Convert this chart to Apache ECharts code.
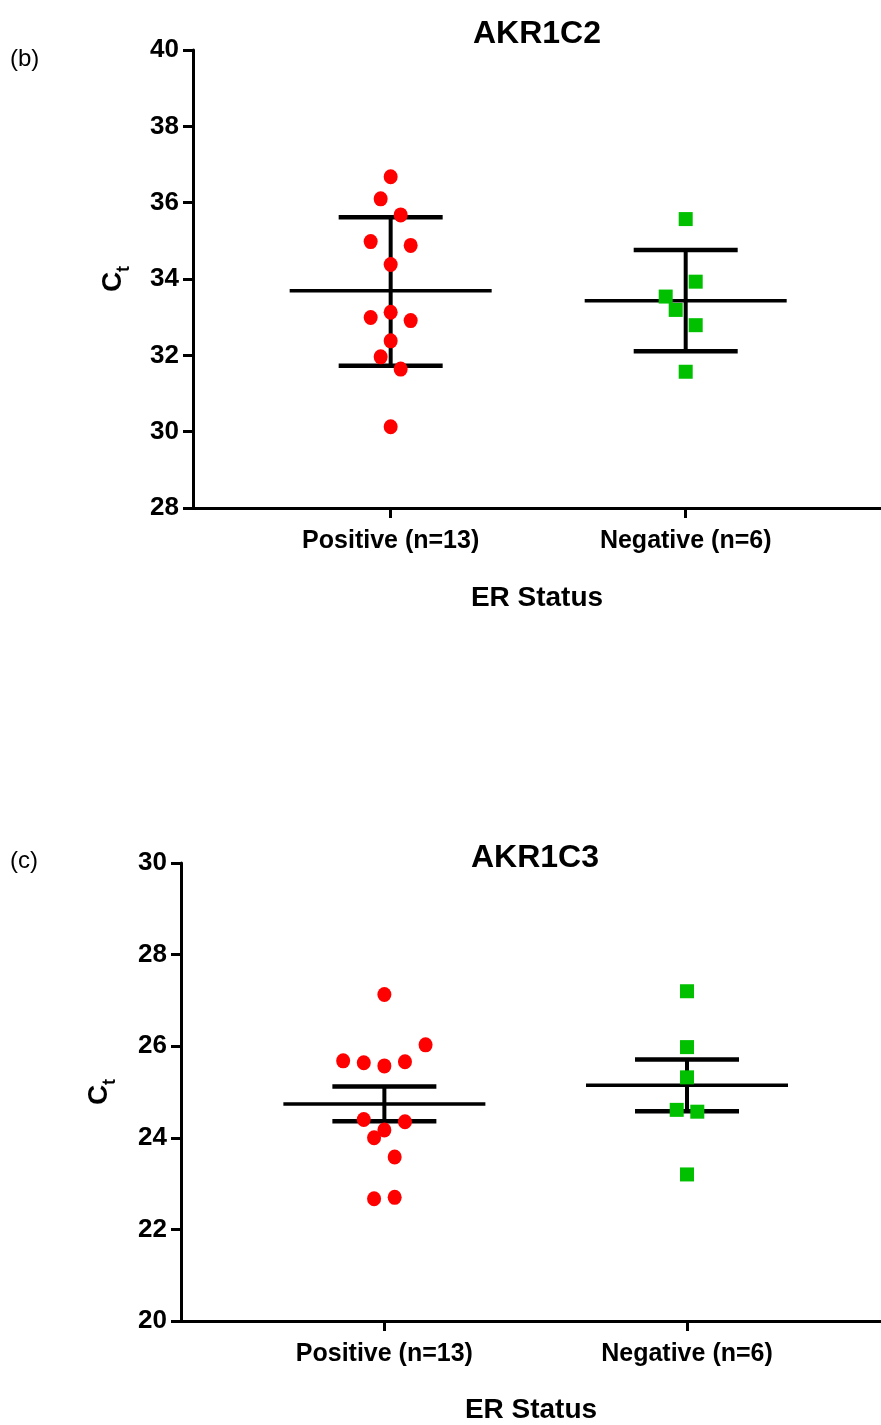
<!DOCTYPE html>
<html>
<head>
<meta charset="utf-8">
<script src="https://cdn.jsdelivr.net/npm/echarts@6/dist/echarts.min.js"></script>
<style>
html,body{margin:0;padding:0;background:#fff;}
#chart{width:881px;height:1425px;}
</style>
</head>
<body>
<div id="chart"></div>
<script>
// ---- data ----
const categories = ['Positive (n=13)', 'Negative (n=6)'];
const panelLabels = ['(b)', '(c)'];
const titles = ['AKR1C2', 'AKR1C3'];
const xAxisTitle = 'ER Status';

// AKR1C2
const c2Positive = [36.68, 36.10, 35.68, 34.98, 34.88, 34.38, 33.13, 32.99, 32.91, 32.38, 31.96, 31.64, 30.13];
const c2PositiveSlot = [0, -1, 1, -2, 2, 0, 0, -2, 2, 0, -1, 1, 0];
const c2Negative = [35.57, 33.93, 33.54, 33.19, 32.79, 31.57];
const c2NegativeSlot = [0, 1, -2, -1, 1, 0];
const c2Mean = [33.69, 33.43];
const c2Low = [31.73, 32.11];
const c2High = [35.62, 34.76];
const c2YTicks = [28, 30, 32, 34, 36, 38, 40];

// AKR1C3
const c3Positive = [27.13, 26.03, 25.68, 25.64, 25.57, 25.66, 24.40, 24.35, 24.17, 24.00, 23.58, 22.67, 22.70];
const c3PositiveSlot = [0, 4, -4, -2, 0, 2, -2, 2, 0, -1, 1, -1, 1];
const c3Negative = [27.20, 25.98, 25.32, 24.61, 24.57, 23.20];
const c3NegativeSlot = [0, 0, 0, -1, 1, 0];
const c3Mean = [24.74, 25.15];
const c3Low = [24.36, 24.58];
const c3High = [25.12, 25.71];
const c3YTicks = [20, 22, 24, 26, 28, 30];

// ---- style ----
const FONT = "'Liberation Sans', Arial, sans-serif";
const RED = '#ff0000';
const GREEN = '#00c000';

function pts(cat, vals, slots, step) {
  return vals.map((v, i) => ({ value: [cat, v], symbolOffset: [slots[i] * step, 0] }));
}
function bars(mean, lo, hi) {
  return mean.map((m, i) => [i + 1, m, lo[i], hi[i]]);
}
function renderBar(params, api) {
  const x = api.value(0);
  const pm = api.coord([x, api.value(1)]);
  const pl = api.coord([x, api.value(2)]);
  const ph = api.coord([x, api.value(3)]);
  const halfMean = 101, halfCap = 52;
  const st = (w) => ({ stroke: '#000', lineWidth: w, lineCap: 'butt' });
  return {
    type: 'group',
    children: [
      { type: 'line', shape: { x1: pl[0], y1: pl[1], x2: ph[0], y2: ph[1] }, style: st(4) },
      { type: 'line', shape: { x1: pm[0] - halfMean, y1: pm[1], x2: pm[0] + halfMean, y2: pm[1] }, style: st(3.5) },
      { type: 'line', shape: { x1: pl[0] - halfCap, y1: pl[1], x2: pl[0] + halfCap, y2: pl[1] }, style: st(4.5) },
      { type: 'line', shape: { x1: ph[0] - halfCap, y1: ph[1], x2: ph[0] + halfCap, y2: ph[1] }, style: st(4.5) }
    ]
  };
}
function xAx(gi, min, max, gap) {
  return {
    gridIndex: gi, type: 'value', min: min, max: max,
    name: xAxisTitle, nameLocation: 'middle', nameGap: gap,
    nameTextStyle: { fontFamily: FONT, fontWeight: 'bold', fontSize: 28, color: '#000' },
    axisLine: { show: true, onZero: false, lineStyle: { color: '#000', width: 3 } },
    axisTick: { show: true, customValues: [1, 2], length: 10, lineStyle: { color: '#000', width: 3 } },
    axisLabel: { show: true, customValues: [1, 2], margin: 21, formatter: (v) => categories[Math.round(v) - 1] || '',
      fontFamily: FONT, fontWeight: 'bold', fontSize: 25, color: '#000' },
    splitLine: { show: false }
  };
}
function yAx(gi, ticks, gap) {
  return {
    gridIndex: gi, type: 'value', min: ticks[0], max: ticks[ticks.length - 1], interval: 2,
    name: '{c|C}{t|t}', nameLocation: 'middle', nameRotate: 90, nameGap: gap,
    nameTextStyle: {
      rich: {
        c: { fontFamily: FONT, fontWeight: 'bold', fontSize: 28, color: '#000', lineHeight: 34, verticalAlign: 'top' },
        t: { fontFamily: FONT, fontWeight: 'bold', fontSize: 18, color: '#000', lineHeight: 34, verticalAlign: 'bottom' }
      }
    },
    axisLine: { show: true, onZero: false, lineStyle: { color: '#000', width: 3 } },
    axisTick: { show: true, length: 10, lineStyle: { color: '#000', width: 3 } },
    axisLabel: { show: true, margin: 14, fontFamily: FONT, fontWeight: 'bold', fontSize: 26, color: '#000' },
    splitLine: { show: false }
  };
}

const chart = echarts.init(document.getElementById('chart'), null, { renderer: 'canvas' });
chart.setOption({
  animation: false,
  backgroundColor: '#fff',
  grid: [
    { left: 193, top: 50, width: 688, height: 458 },
    { left: 181, top: 863, width: 700, height: 460 }
  ],
  xAxis: [xAx(0, 0.330, 2.662, 76), xAx(1, 0.328, 2.641, 75)],
  yAxis: [yAx(0, c2YTicks, 60), yAx(1, c3YTicks, 62)],
  graphic: [
    { type: 'text', left: 10, top: 47, style: { text: panelLabels[0], font: "24px 'Liberation Sans', Arial", fill: '#000' } },
    { type: 'text', left: 10, top: 849, style: { text: panelLabels[1], font: "24px 'Liberation Sans', Arial", fill: '#000' } },
    { type: 'text', x: 537, y: 34, style: { text: titles[0], font: "bold 32px 'Liberation Sans', Arial", fill: '#000', textAlign: 'center', textVerticalAlign: 'middle' } },
    { type: 'text', x: 535, y: 858, style: { text: titles[1], font: "bold 32px 'Liberation Sans', Arial", fill: '#000', textAlign: 'center', textVerticalAlign: 'middle' } }
  ],
  series: [
    { type: 'custom', xAxisIndex: 0, yAxisIndex: 0, z: 2, renderItem: renderBar, data: bars(c2Mean, c2Low, c2High) },
    { type: 'custom', xAxisIndex: 1, yAxisIndex: 1, z: 2, renderItem: renderBar, data: bars(c3Mean, c3Low, c3High) },
    { type: 'scatter', xAxisIndex: 0, yAxisIndex: 0, z: 3, symbol: 'circle', symbolSize: [14, 15], itemStyle: { color: RED, opacity: 1 }, data: pts(1, c2Positive, c2PositiveSlot, 10) },
    { type: 'scatter', xAxisIndex: 0, yAxisIndex: 0, z: 3, symbol: 'rect', symbolSize: 14, itemStyle: { color: GREEN, opacity: 1 }, data: pts(2, c2Negative, c2NegativeSlot, 10) },
    { type: 'scatter', xAxisIndex: 1, yAxisIndex: 1, z: 3, symbol: 'circle', symbolSize: [14, 15], itemStyle: { color: RED, opacity: 1 }, data: pts(1, c3Positive, c3PositiveSlot, 10.3) },
    { type: 'scatter', xAxisIndex: 1, yAxisIndex: 1, z: 3, symbol: 'rect', symbolSize: 14, itemStyle: { color: GREEN, opacity: 1 }, data: pts(2, c3Negative, c3NegativeSlot, 10.3) }
  ]
});
</script>
</body>
</html>
